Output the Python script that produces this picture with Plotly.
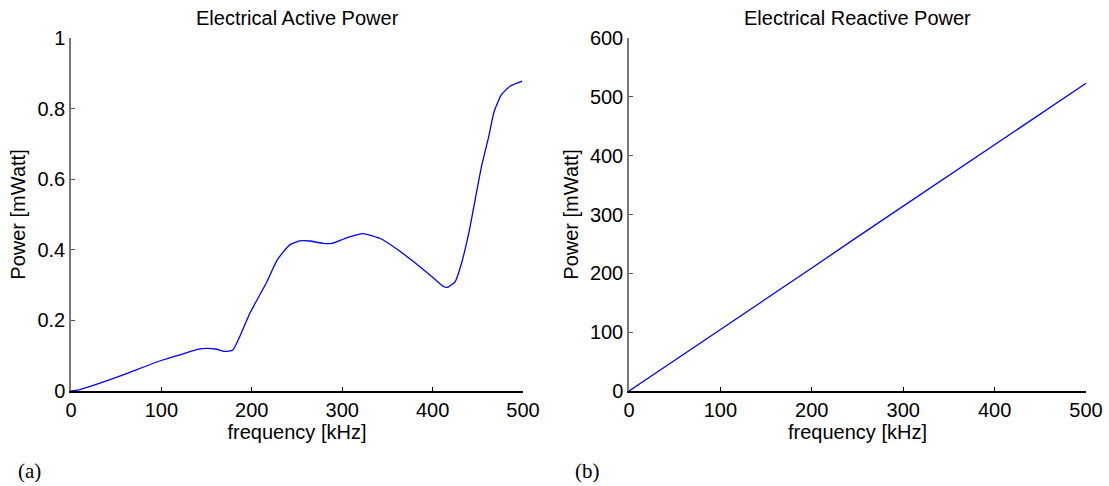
import plotly.graph_objects as go

# Active power (left panel)
freq_active = [0, 10, 32, 60, 98, 125, 140, 150, 160, 170, 179, 188, 198, 216, 228, 242,
               253, 264, 279, 288, 305, 323, 342, 360, 386, 401, 412, 417, 425, 432, 440,
               447, 454, 462, 468, 476, 486, 499]
power_active = [0, 0.004, 0.022, 0.048, 0.085, 0.106, 0.118, 0.121, 0.119, 0.112, 0.116,
                0.162, 0.221, 0.306, 0.371, 0.414, 0.425, 0.425, 0.418, 0.418, 0.434, 0.446,
                0.432, 0.403, 0.352, 0.320, 0.296, 0.294, 0.31, 0.362, 0.447, 0.541, 0.635,
                0.72, 0.791, 0.839, 0.864, 0.878]

# Reactive power (right panel)
freq_reactive = [0, 50, 100, 150, 200, 250, 300, 350, 400, 450, 500]
power_reactive = [0, 52, 105, 157, 209, 262, 314, 366, 418, 471, 523]

left_yticks = [0, 0.2, 0.4, 0.6, 0.8, 1]
left_yticklabels = ["0", "0.2", "0.4", "0.6", "0.8", "1"]
right_yticks = [0, 100, 200, 300, 400, 500, 600]
xticks = [0, 100, 200, 300, 400, 500]

W, H = 1109, 486
FONT = "Liberation Sans, Arial, sans-serif"
FS = 20

fig = go.Figure()
fig.add_trace(go.Scatter(x=freq_active, y=power_active, mode="lines",
                         line=dict(color="#0000ff", width=1.3, shape="spline", smoothing=0.5),
                         xaxis="x", yaxis="y", showlegend=False))
fig.add_trace(go.Scatter(x=freq_reactive, y=power_reactive, mode="lines",
                         line=dict(color="#0000ff", width=1.3),
                         xaxis="x2", yaxis="y2", showlegend=False))

ydom = [(H - 391) / H, (H - 38) / H]
xdom1 = [71 / W, 523 / W]
xdom2 = [629 / W, 1086 / W]

xcommon = dict(range=[0, 500], tickvals=xticks, ticks="inside", ticklen=4, tickcolor="#000",
               showline=True, linecolor="#000", linewidth=1.5, showgrid=False, zeroline=False,
               tickfont=dict(family=FONT, size=FS, color="#000"), mirror=False,
               automargin=False)
ycommon = dict(ticks="inside", ticklen=4, tickcolor="#555", showline=True, linecolor="#777",
               linewidth=1.5, showgrid=False, zeroline=False,
               tickfont=dict(family=FONT, size=FS, color="#000"), mirror=False,
               automargin=False)

fig.update_layout(
    width=W, height=H, autosize=False,
    margin=dict(l=0, r=0, t=0, b=0),
    paper_bgcolor="white", plot_bgcolor="white",
    font=dict(family=FONT, size=FS, color="#000"),
    xaxis=dict(domain=xdom1, anchor="y",
               title=dict(text="frequency [kHz]", standoff=2, font=dict(family=FONT, size=FS)),
               **xcommon),
    yaxis=dict(domain=ydom, anchor="x", range=[0, 1], tickvals=left_yticks,
               ticktext=left_yticklabels,
               title=dict(text="Power [mWatt]", standoff=6, font=dict(family=FONT, size=FS)),
               **ycommon),
    xaxis2=dict(domain=xdom2, anchor="y2",
                title=dict(text="frequency [kHz]", standoff=2, font=dict(family=FONT, size=FS)),
                **xcommon),
    yaxis2=dict(domain=ydom, anchor="x2", range=[0, 600], tickvals=right_yticks,
                title=dict(text="Power [mWatt]", standoff=6, font=dict(family=FONT, size=FS)),
                **ycommon),
)

fig.add_annotation(text="Electrical Active Power", x=297 / W, y=1 - 18 / H, xref="paper",
                   yref="paper", showarrow=False, xanchor="center", yanchor="middle",
                   font=dict(family=FONT, size=FS, color="#000"))
fig.add_annotation(text="Electrical Reactive Power", x=857 / W, y=1 - 18 / H, xref="paper",
                   yref="paper", showarrow=False, xanchor="center", yanchor="middle",
                   font=dict(family=FONT, size=FS, color="#000"))
fig.add_annotation(text="(a)", x=16 / W, y=1 - 471 / H, xref="paper", yref="paper",
                   showarrow=False, xanchor="left", yanchor="middle",
                   font=dict(family="Liberation Serif, Times New Roman, serif", size=21, color="#000"))
fig.add_annotation(text="(b)", x=573 / W, y=1 - 471 / H, xref="paper", yref="paper",
                   showarrow=False, xanchor="left", yanchor="middle",
                   font=dict(family="Liberation Serif, Times New Roman, serif", size=21, color="#000"))

fig.write_html("out.html")
